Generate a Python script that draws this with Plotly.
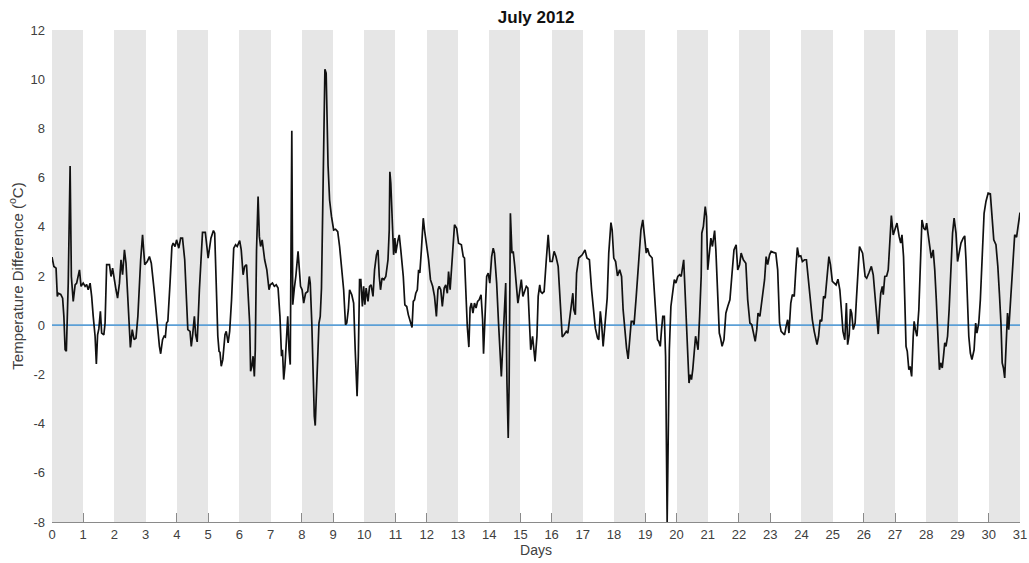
import plotly.graph_objects as go

# ---- data ----
days = [
    0.00, 0.06, 0.13, 0.17, 0.20, 0.28, 0.34, 0.38, 0.42, 0.46, 0.52, 0.58, 0.62, 0.68, 0.74, 0.79, 0.88, 0.93,
    1.00, 1.06, 1.11, 1.16, 1.22, 1.27, 1.32, 1.38, 1.42, 1.46, 1.50, 1.55, 1.59, 1.66, 1.70, 1.75, 1.84, 1.89, 1.94,
    2.00, 2.05, 2.10, 2.16, 2.21, 2.26, 2.32, 2.37, 2.42, 2.48, 2.51, 2.57, 2.63, 2.69, 2.75, 2.84, 2.90, 2.97,
    3.05, 3.12, 3.18, 3.27, 3.35, 3.44, 3.48, 3.54, 3.59, 3.63, 3.67, 3.71, 3.78, 3.84, 3.88, 3.94, 3.99,
    4.06, 4.12, 4.18, 4.25, 4.31, 4.35, 4.42, 4.46, 4.50, 4.56, 4.60, 4.65, 4.72, 4.82, 4.91,
    5.00, 5.09, 5.17, 5.21, 5.26, 5.31, 5.35, 5.38, 5.42, 5.47, 5.54, 5.58, 5.64, 5.69, 5.75, 5.82, 5.88, 5.93,
    6.01, 6.06, 6.12, 6.17, 6.23, 6.29, 6.33, 6.36, 6.40, 6.44, 6.48, 6.51, 6.55, 6.60, 6.64, 6.68, 6.73, 6.81, 6.88, 6.95, 6.99,
    7.06, 7.12, 7.18, 7.24, 7.30, 7.35, 7.38, 7.42, 7.46, 7.50, 7.55, 7.59, 7.63, 7.68, 7.71, 7.76, 7.81, 7.88, 7.92, 7.96,
    8.01, 8.06, 8.12, 8.19, 8.24, 8.27, 8.32, 8.36, 8.40, 8.43, 8.46, 8.52, 8.55, 8.59, 8.63, 8.74, 8.78, 8.84, 8.89, 8.95,
    9.02, 9.08, 9.15, 9.21, 9.28, 9.34, 9.40, 9.44, 9.49, 9.53, 9.60, 9.66, 9.71, 9.77, 9.81, 9.85, 9.89, 9.94, 9.98,
    10.02, 10.06, 10.12, 10.17, 10.22, 10.28, 10.33, 10.39, 10.44, 10.48, 10.52, 10.57, 10.63, 10.69, 10.76, 10.80, 10.82, 10.85, 10.90, 10.94, 10.98,
    11.01, 11.07, 11.12, 11.17, 11.25, 11.30, 11.36, 11.41, 11.45, 11.49, 11.53, 11.57, 11.61, 11.65, 11.70, 11.74, 11.78, 11.83, 11.89, 11.93,
    12.00, 12.06, 12.12, 12.19, 12.25, 12.31, 12.36, 12.40, 12.45, 12.50, 12.56, 12.61, 12.66, 12.70, 12.75, 12.81, 12.89, 12.96,
    13.02, 13.11, 13.17, 13.21, 13.25, 13.30, 13.35, 13.39, 13.43, 13.48, 13.53, 13.58, 13.63, 13.68, 13.74, 13.79, 13.82, 13.86, 13.92, 13.97,
    14.02, 14.08, 14.13, 14.17, 14.24, 14.30, 14.35, 14.39, 14.43, 14.48, 14.53, 14.57, 14.61, 14.64, 14.68, 14.73, 14.77, 14.82, 14.87, 14.92, 14.97,
    15.03, 15.08, 15.13, 15.19, 15.24, 15.29, 15.33, 15.39, 15.43, 15.47, 15.53, 15.57, 15.62, 15.65, 15.70, 15.76, 15.83, 15.89, 15.95,
    16.02, 16.08, 16.14, 16.21, 16.27, 16.34, 16.40, 16.47, 16.52, 16.57, 16.62, 16.68, 16.71, 16.76, 16.80, 16.87, 16.98,
    17.07, 17.13, 17.21, 17.28, 17.34, 17.40, 17.47, 17.51, 17.56, 17.60, 17.65, 17.70, 17.78, 17.83, 17.90, 17.94, 17.99,
    18.05, 18.11, 18.18, 18.24, 18.29, 18.35, 18.40, 18.45, 18.50, 18.55, 18.60, 18.64, 18.71, 18.80, 18.86, 18.92, 18.98,
    19.03, 19.07, 19.13, 19.22, 19.27, 19.33, 19.39, 19.43, 19.48, 19.52, 19.56, 19.61, 19.65, 19.70, 19.77, 19.82, 19.87, 19.93, 19.98,
    20.04, 20.10, 20.15, 20.23, 20.26, 20.30, 20.35, 20.40, 20.44, 20.48, 20.52, 20.57, 20.61, 20.65, 20.69, 20.74, 20.79, 20.81, 20.86, 20.92, 20.96,
    21.00, 21.05, 21.10, 21.15, 21.22, 21.26, 21.31, 21.37, 21.41, 21.46, 21.52, 21.58, 21.64, 21.71, 21.77, 21.84, 21.91, 21.96,
    22.02, 22.07, 22.14, 22.22, 22.28, 22.35, 22.41, 22.46, 22.52, 22.57, 22.61, 22.67, 22.71, 22.76, 22.82, 22.87, 22.92, 22.98,
    23.03, 23.10, 23.18, 23.24, 23.30, 23.35, 23.41, 23.46, 23.51, 23.56, 23.60, 23.66, 23.71, 23.77, 23.82, 23.87, 23.92, 23.98,
    24.03, 24.10, 24.16, 24.23, 24.29, 24.35, 24.41, 24.46, 24.50, 24.55, 24.60, 24.65, 24.71, 24.76, 24.82, 24.88, 24.93, 24.99,
    25.05, 25.11, 25.17, 25.23, 25.28, 25.33, 25.39, 25.44, 25.48, 25.53, 25.57, 25.61, 25.66, 25.72, 25.76, 25.80, 25.86, 25.91, 25.96,
    26.04, 26.09, 26.16, 26.24, 26.30, 26.35, 26.41, 26.46, 26.50, 26.54, 26.59, 26.62, 26.67, 26.73, 26.78, 26.83, 26.88, 26.94, 26.99,
    27.06, 27.13, 27.18, 27.22, 27.27, 27.31, 27.35, 27.39, 27.44, 27.48, 27.53, 27.58, 27.61, 27.65, 27.70, 27.76, 27.81, 27.86, 27.92, 27.97,
    28.01, 28.06, 28.11, 28.16, 28.22, 28.27, 28.32, 28.38, 28.42, 28.46, 28.51, 28.55, 28.59, 28.63, 28.68, 28.73, 28.79, 28.84, 28.89, 28.95,
    29.00, 29.05, 29.11, 29.18, 29.23, 29.27, 29.32, 29.36, 29.41, 29.46, 29.53, 29.58, 29.62, 29.68, 29.73, 29.78, 29.85, 29.91, 29.98,
    30.05, 30.11, 30.16, 30.23, 30.29, 30.34, 30.39, 30.43, 30.47, 30.51, 30.55, 30.60, 30.64, 30.68, 30.72, 30.78, 30.83, 30.89, 30.94, 31.00,
]

temp_diff = [
    2.77, 2.39, 2.32, 1.17, 1.30, 1.25, 1.10, 0.36, -1.00, -1.06, 1.71, 6.47, 1.98, 0.97, 1.64, 1.71, 2.25, 1.58,
    1.71, 1.58, 1.65, 1.44, 1.71, 1.17, 0.36, -0.45, -1.58, -0.39, -0.15, 0.56, -0.32, -0.39, 0.09, 2.46, 2.46, 1.98, 2.32,
    1.78, 1.44, 1.10, 1.71, 2.66, 2.05, 3.06, 2.52, 1.30, -0.05, -0.90, -0.18, -0.59, -0.52, 0.36, 2.66, 3.67, 2.46,
    2.59, 2.79, 2.52, 1.44, 0.22, -0.86, -1.16, -0.59, -0.45, -0.48, 0.09, 0.16, 1.71, 3.20, 3.34, 3.20, 3.47,
    3.13, 3.54, 3.54, 2.66, 0.90, -0.18, -0.25, -0.86, -0.45, 0.36, -0.39, -0.68, 1.44, 3.77, 3.77,
    2.73, 3.54, 3.85, 3.74, 1.44, -0.45, -1.06, -1.10, -1.67, -1.40, -0.39, -0.25, -0.72, -0.25, 1.03, 3.13, 3.27, 3.20,
    3.44, 3.06, 2.05, 2.39, 2.46, 1.30, 0.09, -1.87, -1.67, -1.26, -2.08, -1.00, 3.06, 5.23, 3.61, 3.20, 3.47, 2.66, 2.25, 1.44, 1.64,
    1.71, 1.58, 1.64, 1.51, 0.36, -1.26, -1.00, -2.21, -1.67, -0.86, 0.36, -1.00, -1.60, 7.90, 0.83, 1.50, 2.00, 3.00, 2.39, 1.58,
    1.44, 0.90, 1.30, 1.37, 1.98, 1.71, 0.09, -2.08, -3.70, -4.08, -3.16, -0.72, 0.09, 0.36, 1.50, 10.40, 10.25, 6.50, 5.09, 4.42,
    3.87, 3.90, 3.80, 3.20, 2.25, 1.44, 0.02, 0.09, 0.63, 1.44, 1.24, 0.90, -1.00, -2.89, -1.26, 1.85, 1.85, 0.76, 1.58,
    0.83, 1.51, 0.97, 1.58, 1.64, 1.17, 2.25, 2.86, 3.06, 1.98, 1.44, 1.91, 1.85, 1.98, 2.66, 3.87, 6.24, 5.77, 3.60, 2.86, 3.54,
    2.93, 3.40, 3.67, 3.06, 1.98, 0.83, 0.76, 0.43, 0.22, 0.09, -0.09, 0.97, 1.03, 1.30, 1.44, 2.25, 2.12, 3.06, 4.35, 3.87,
    3.27, 2.66, 1.85, 1.58, 1.17, 0.36, 1.44, 1.58, 1.44, 0.76, 1.51, 1.64, 1.30, 2.18, 1.44, 2.66, 4.08, 3.94,
    3.33, 3.27, 2.79, 2.73, 1.17, -0.05, -0.89, 0.70, 0.90, 0.49, 0.90, 0.70, 0.97, 1.03, 1.24, 0.22, -1.16, 0.09, 1.98, 2.12,
    1.71, 2.79, 3.13, 2.93, 1.71, 0.09, -1.13, -2.08, -1.00, 0.36, 1.71, -2.35, -4.58, -2.30, 4.55, 2.93, 3.00, 2.39, 1.71, 0.90, 1.30,
    1.85, 1.17, 1.37, 1.58, 1.51, 0.09, -1.00, -0.45, -1.13, -1.47, -0.45, 1.17, 1.64, 1.37, 1.30, 1.37, 2.66, 3.67, 2.59,
    2.59, 3.00, 2.79, 2.39, 1.03, -0.48, -0.39, -0.25, -0.32, 0.22, 0.76, 1.30, 0.63, 0.43, 2.12, 2.73, 2.86,
    3.06, 2.73, 2.66, 1.44, 0.49, -0.12, -0.52, -0.59, 0.56, 0.09, -0.86, -0.05, 1.10, 2.93, 4.17, 3.87, 2.73,
    2.59, 2.00, 2.25, 1.98, 0.63, -0.45, -0.93, -1.37, -0.66, 0.16, 0.16, 0.02, 1.17, 3.06, 3.87, 4.28, 3.60,
    2.93, 3.13, 2.86, 2.73, 1.71, 0.36, -0.59, -0.66, -0.86, -0.18, 0.36, 0.36, -1.26, -8.00, -1.00, 0.76, 1.24, 1.85, 1.71,
    1.98, 2.05, 1.98, 2.66, 1.71, 0.36, -1.00, -2.35, -2.01, -2.21, -1.81, -1.00, -0.45, -0.72, -1.00, 0.36, 1.98, 3.74, 4.01, 4.82, 4.42,
    2.25, 3.06, 3.54, 3.20, 3.85, 3.06, 1.30, -0.32, -0.52, -0.86, -0.59, 0.49, 0.76, 1.03, 1.98, 3.06, 3.27, 2.25,
    2.46, 2.93, 2.66, 2.52, 1.03, 0.09, 0.02, -0.32, -0.66, -0.18, 0.49, 0.36, 0.76, 1.17, 1.85, 2.79, 2.46, 2.86,
    3.00, 2.96, 2.93, 2.25, 0.09, -0.25, -0.32, -0.39, -0.05, 0.22, -0.32, 0.90, 1.24, 1.17, 2.25, 3.16, 2.79, 2.82,
    2.59, 2.66, 2.66, 1.71, 0.90, 0.22, -0.25, -0.66, -0.79, -0.45, 0.22, 0.16, 1.17, 1.10, 1.98, 2.79, 2.46, 1.78,
    1.71, 1.64, 1.87, 1.44, 0.63, -0.25, -0.59, 0.90, -0.79, -0.39, 0.66, 0.49, -0.18, 0.09, 1.03, 1.98, 3.20, 3.06, 2.93,
    1.98, 1.91, 2.12, 2.39, 2.05, 1.17, 0.49, -0.36, 0.63, 1.30, 1.58, 1.24, 1.98, 2.00, 2.25, 3.60, 4.46, 3.67, 3.87,
    4.15, 3.60, 3.34, 3.67, 2.79, 1.03, -0.86, -1.06, -1.81, -1.67, -2.08, -0.45, 0.16, -0.18, -0.45, 0.63, 2.39, 4.28, 3.94, 3.87,
    4.15, 3.60, 3.20, 2.73, 3.06, 2.25, 1.03, -0.72, -1.81, -1.53, -1.74, -1.26, -0.72, -0.86, -0.45, 0.63, 2.39, 3.74, 4.35, 3.74,
    2.59, 2.93, 3.34, 3.54, 3.63, 2.66, 1.17, -0.45, -1.13, -1.40, -1.00, 0.09, -0.32, 0.09, 1.03, 2.79, 4.55, 5.03, 5.37,
    5.34, 4.42, 3.47, 3.27, 2.39, 1.30, 0.09, -1.53, -1.74, -2.14, -1.00, 0.49, -0.18, 0.63, 1.71, 3.06, 3.67, 3.58, 4.08, 4.58,
]

x_ticks = list(range(0, 32))
x_tick_labels = [str(d) for d in x_ticks]
y_ticks = [-8, -6, -4, -2, 0, 2, 4, 6, 8, 10, 12]
y_tick_labels = ["-8", "-6", "-4", "-2", "0", "2", "4", "6", "8", "10", "12"]
night_band_starts = list(range(0, 31, 2))   # shaded day bands
x_range = [0, 31]
y_range = [-8, 12]

fig = go.Figure()

# shaded bands (as bars so the bottom axis line can sit underneath)
fig.add_trace(go.Bar(
    x=[s + 0.5 for s in night_band_starts],
    y=[y_range[1] - y_range[0]] * len(night_band_starts),
    base=[y_range[0]] * len(night_band_starts),
    width=[1] * len(night_band_starts),
    marker=dict(color="#e6e6e6", line=dict(width=0)),
    hoverinfo="skip", showlegend=False,
))

# zero reference line
fig.add_trace(go.Scatter(
    x=x_range, y=[0, 0], mode="lines",
    line=dict(color="#5b9fd6", width=1.8),
    hoverinfo="skip", showlegend=False,
))

# temperature difference series
fig.add_trace(go.Scatter(
    x=days, y=temp_diff, mode="lines",
    line=dict(color="#111111", width=1.7),
    showlegend=False,
))

fig.update_layout(
    width=1029, height=563,
    margin=dict(l=52, r=9, t=30, b=41, autoexpand=False),
    paper_bgcolor="white", plot_bgcolor="white",
    font=dict(family="Liberation Sans, Arial, sans-serif", size=13, color="#404040"),
    title=dict(text="<b>July 2012</b>", x=0.521, xanchor="center", y=0.97, yanchor="middle",
               font=dict(size=17, color="#111111")),
    bargap=0,
    showlegend=False,
)

fig.update_xaxes(
    range=x_range, tickmode="array", tickvals=x_ticks, ticktext=x_tick_labels,
    ticks="inside", ticklen=9, tickwidth=1, tickcolor="#8a8a8a",
    showline=True, linecolor="#8a8a8a", linewidth=1,
    showgrid=False, zeroline=False, layer="below traces", automargin=False,
    tickfont=dict(size=13, color="#404040"),
    title=dict(text="Days", font=dict(size=14, color="#404040"), standoff=2),
)
fig.update_yaxes(
    range=y_range, tickmode="array", tickvals=y_ticks, ticktext=y_tick_labels,
    ticks="", showline=False, showgrid=False, zeroline=False, automargin=False,
    ticklabelstandoff=6,
    tickfont=dict(size=13, color="#404040"),
    title=dict(text="Temperature Difference (<sup>o</sup>C)", font=dict(size=15, color="#404040"), standoff=3),
)

fig.write_html("out.html")
